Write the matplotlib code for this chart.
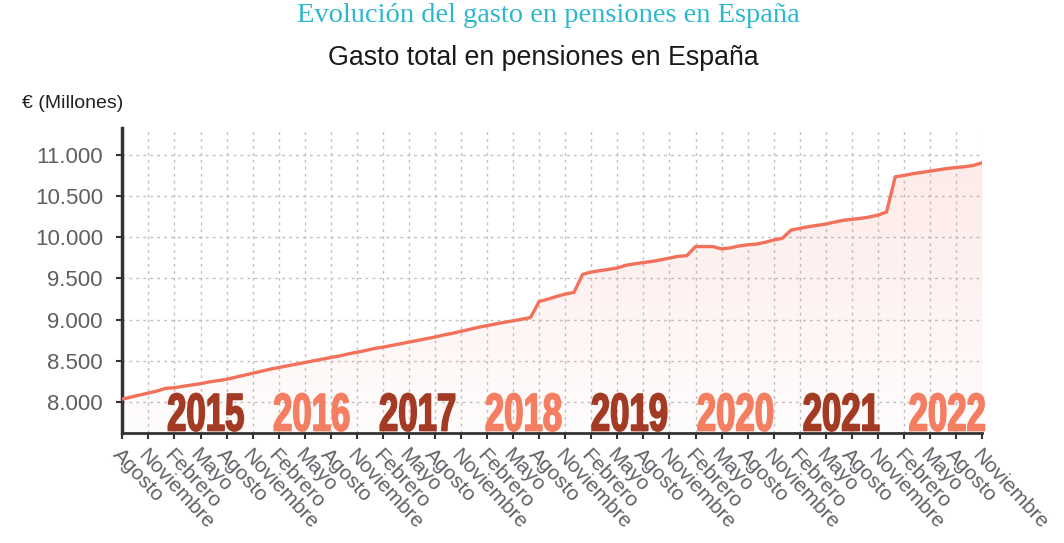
import matplotlib
matplotlib.use("Agg")
import matplotlib.pyplot as plt
import matplotlib.transforms as mtransforms
import matplotlib.patheffects as pe
import numpy as np

OUTPUT_FILE = "out.png"

# gasto mensual (millones de euros), agosto 2014 -> noviembre 2022
gasto_2014 = [8033, 8057, 8082, 8106, 8131]
gasto_2015 = [8163, 8171, 8188, 8204, 8220, 8241, 8257, 8273, 8298, 8322, 8347, 8371]
gasto_2016 = [8396, 8416, 8437, 8457, 8477, 8498, 8518, 8538, 8557, 8582, 8602, 8623]
gasto_2017 = [8648, 8664, 8685, 8705, 8726, 8746, 8767, 8787, 8812, 8832, 8857, 8881]
gasto_2018 = [8906, 8926, 8947, 8967, 8985, 9004, 9025, 9220, 9248, 9281, 9310, 9330]
gasto_2019 = [9550, 9578, 9595, 9611, 9628, 9661, 9678, 9694, 9707, 9727, 9748, 9769]
gasto_2020 = [9777, 9888, 9888, 9888, 9860, 9872, 9895, 9910, 9918, 9939, 9968, 9988]
gasto_2021 = [10089, 10109, 10130, 10146, 10162, 10186, 10207, 10219, 10231, 10247, 10271, 10308]
gasto_2022 = [10737, 10753, 10774, 10790, 10806, 10822, 10838, 10850, 10859, 10875, 10907]

gasto = (gasto_2014 + gasto_2015 + gasto_2016 + gasto_2017 + gasto_2018
         + gasto_2019 + gasto_2020 + gasto_2021 + gasto_2022)
meses = np.arange(len(gasto))  # 0 = agosto 2014

# etiquetas trimestrales del eje x
etiquetas_x = ["Agosto", "Noviembre"] + ["Febrero", "Mayo", "Agosto", "Noviembre"] * 8
ticks_y = [8000, 8500, 9000, 9500, 10000, 10500, 11000]
etiquetas_y = ["8.000", "8.500", "9.000", "9.500", "10.000", "10.500", "11.000"]

anios = ["2015", "2016", "2017", "2018", "2019", "2020", "2021", "2022"]
POS_ANIOS = [9.6, 21.8, 34.0, 46.2, 58.4, 70.6, 82.8, 95.0]  # centro de cada rótulo (mes)
COLOR_OSCURO = "#a33a24"
COLOR_CLARO = "#f47e61"
COLOR_LINEA = "#f2715a"
Y_MIN, Y_MAX = 7620, 11330


class Estirar(pe.AbstractPathEffect):
    """estira el texto en vertical y engrosa el trazo (tipo 'condensed')"""
    def __init__(self, sy, grosor=1.0):
        super().__init__()
        self.sy = sy
        self.grosor = grosor

    def draw_path(self, renderer, gc, tpath, affine, rgbFace=None):
        tr = mtransforms.Affine2D().scale(1, self.sy) + affine
        gc0 = renderer.new_gc()
        gc0.copy_properties(gc)
        gc0.set_linewidth(self.grosor)
        gc0.set_foreground(rgbFace)
        gc0.set_joinstyle("round")
        renderer.draw_path(gc0, tpath, tr, rgbFace)
        gc0.restore()


fig = plt.figure(figsize=(10.64, 5.43), dpi=100)
ax = fig.add_axes([0.115, 0.2026, 0.808, 0.5616])

# relleno degradado bajo la curva
poly = ax.fill_between(meses, gasto, Y_MIN, facecolor="none", edgecolor="none")
grad = np.linspace(0.02, 0.16, 256).reshape(-1, 1)
rgba = np.zeros((256, 1, 4))
rgba[..., 0] = 0.96
rgba[..., 1] = 0.45
rgba[..., 2] = 0.38
rgba[..., 3] = grad
img = ax.imshow(rgba, extent=[0, len(gasto) - 1, Y_MAX, Y_MIN], aspect="auto",
                origin="upper", zorder=1)
img.set_clip_path(poly.get_paths()[0], transform=ax.transData)
ax.set_xlim(0, len(gasto) - 1)
ax.set_ylim(Y_MIN, Y_MAX)

ax.plot(meses, gasto, color=COLOR_LINEA, linewidth=2.4, zorder=3,
        solid_joinstyle="round")

# ejes y rejilla punteada
ax.set_xticks(meses[::3])
ax.set_xticklabels(etiquetas_x, rotation=-47, ha="left", va="top",
                   rotation_mode="anchor", fontsize=15, color="#5f6368",
                   family="Liberation Sans")
ax.set_yticks(ticks_y)
ax.set_yticklabels(etiquetas_y, fontsize=16, color="#5f5f5f",
                   family="Liberation Sans")
ax.grid(True, color="#c0c0c0", linestyle=(0, (2, 3)), linewidth=1.0, zorder=0)
ax.set_axisbelow(True)

for s in ["top", "right"]:
    ax.spines[s].set_visible(False)
ax.spines["left"].set_color("#333333")
ax.spines["left"].set_linewidth(2.5)
ax.spines["bottom"].set_color("#333333")
ax.spines["bottom"].set_linewidth(2.0)
ax.tick_params(axis="x", direction="out", length=4, width=1.5, color="#333333", pad=5)
ax.tick_params(axis="y", direction="out", length=4, width=1.5, color="#333333", pad=10)

# rótulos de años
trans = mtransforms.blended_transform_factory(ax.transData, ax.transAxes)
for i, (anio, xpos) in enumerate(zip(anios, POS_ANIOS)):
    ax.text(xpos, 0.008, anio, transform=trans, ha="center", va="baseline",
            fontsize=25, fontweight="bold", family="Liberation Sans",
            color=COLOR_OSCURO if i % 2 == 0 else COLOR_CLARO, zorder=4,
            path_effects=[Estirar(1.53, 1.2)])

fig.text(0.515, 0.972, "Evolución del gasto en pensiones en España", ha="center",
         va="center", fontsize=20.5, color="#2cb8cc", family="Liberation Serif")
fig.text(0.511, 0.893, "Gasto total en pensiones en España", ha="center",
         va="center", fontsize=19.3, color="#1a1a1a", family="Liberation Sans")
fig.text(0.021, 0.81, "€ (Millones)", ha="left", va="center", fontsize=14,
         color="#222222", family="Liberation Sans")

plt.savefig(OUTPUT_FILE, dpi=100)
